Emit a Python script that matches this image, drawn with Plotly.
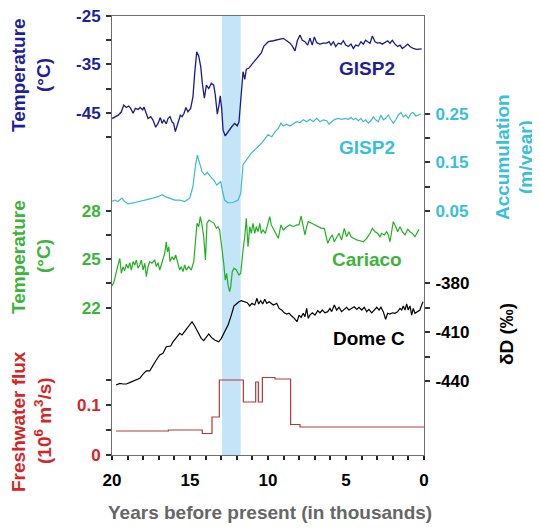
import plotly.graph_objects as go

# ---- data (years before present in thousands) ----
gisp2_temp_years = [20.0, 19.79, 19.6, 19.4, 19.25, 19.08, 18.93, 18.8, 18.65, 18.5, 18.33, 18.19, 18.03, 17.95,
                    17.8, 17.69, 17.52, 17.37, 17.2, 17.05, 16.9, 16.79, 16.67, 16.52, 16.41, 16.28, 16.15, 16.05,
                    15.94, 15.77, 15.62, 15.51, 15.38, 15.26, 15.13, 14.96, 14.81, 14.7, 14.57, 14.44, 14.31, 14.21,
                    14.08, 13.95, 13.8, 13.63, 13.48, 13.38, 13.25, 13.14, 13.06, 12.97, 12.88, 12.74, 12.56, 12.35,
                    12.14, 11.97, 11.86, 11.75, 11.6, 11.49, 11.39, 11.24, 11.07, 10.85, 10.64, 10.43, 10.26, 10.04,
                    9.98, 9.66, 9.34, 9.02, 8.8, 8.59, 8.44, 8.27, 8.12, 7.95, 7.8, 7.63, 7.46, 7.31, 7.16, 7.03,
                    6.88, 6.67, 6.46, 6.24, 6.09, 5.96, 5.81, 5.66, 5.49, 5.32, 5.17, 5.02, 4.85, 4.68, 4.53, 4.38,
                    4.21, 4.04, 3.89, 3.74, 3.61, 3.46, 3.31, 3.14, 2.97, 2.82, 2.67, 2.5, 2.33, 2.18, 2.03, 1.86,
                    1.69, 1.54, 1.39, 1.22, 1.04, 0.9, 0.69, 0.47, 0.26, 0.15]
gisp2_temp = [-46.2, -45.8, -45.5, -44.8, -43.4, -43.9, -43.6, -44.1, -45.1, -44.1, -44.3, -43.9, -44.4, -43.8,
              -45.1, -46.2, -45.8, -46.5, -48.0, -47.2, -46.0, -47.2, -46.5, -47.3, -46.2, -45.8, -46.9, -47.2,
              -48.9, -47.3, -45.5, -45.8, -45.1, -43.9, -44.8, -44.1, -41.7, -36.9, -32.4, -33.3, -35.5, -38.9,
              -42.0, -39.3, -40.0, -38.9, -39.3, -41.3, -45.3, -43.4, -41.5, -44.1, -48.6, -49.8, -48.9, -48.0,
              -47.2, -47.7, -46.9, -43.1, -36.5, -38.1, -36.0, -35.8, -35.1, -34.4, -33.5, -32.6, -31.2, -30.4,
              -30.3, -30.1, -29.8, -29.6, -30.1, -30.6, -31.2, -32.2, -30.1, -28.9, -30.0, -30.3, -31.0, -29.6,
              -31.0, -29.3, -30.5, -30.8, -30.6, -30.6, -30.3, -31.0, -30.3, -31.3, -30.6, -30.8, -30.1, -31.0,
              -31.3, -30.8, -31.7, -31.0, -31.2, -30.3, -30.8, -30.0, -30.3, -30.6, -29.1, -30.3, -30.6, -30.5,
              -30.8, -30.5, -30.1, -30.6, -30.0, -30.8, -31.3, -31.0, -31.7, -31.3, -30.8, -31.3, -31.7, -31.9,
              -31.9, -31.8]

accum_years = [20.0, 19.83, 19.62, 19.36, 19.19, 18.97, 18.65, 18.22, 17.8, 17.37, 17.05, 16.79, 16.58, 16.3,
               15.98, 15.66, 15.34, 15.02, 14.81, 14.66, 14.53, 14.38, 14.23, 14.06, 13.89, 13.67, 13.46, 13.29,
               13.14, 13.03, 12.93, 12.78, 12.56, 12.24, 11.92, 11.75, 11.6, 11.39, 11.07, 10.75, 10.43, 10.17,
               10.0, 9.76, 9.55, 9.34, 9.17, 9.02, 8.8, 8.59, 8.38, 8.16, 7.95, 7.74, 7.52, 7.31, 7.1, 6.88, 6.67,
               6.46, 6.24, 6.09, 5.92, 5.71, 5.49, 5.28, 5.06, 4.85, 4.68, 4.53, 4.38, 4.21, 4.04, 3.89, 3.74,
               3.57, 3.4, 3.25, 3.1, 2.93, 2.76, 2.61, 2.46, 2.29, 2.12, 1.97, 1.81, 1.65, 1.47, 1.33, 1.17, 1.01,
               0.83, 0.69, 0.53, 0.37, 0.19]
accum = [0.069, 0.072, 0.069, 0.076, 0.069, 0.064, 0.066, 0.069, 0.072, 0.076, 0.079, 0.083, 0.079, 0.076,
         0.072, 0.072, 0.069, 0.076, 0.100, 0.141, 0.165, 0.148, 0.131, 0.124, 0.129, 0.120, 0.113, 0.103,
         0.107, 0.110, 0.093, 0.072, 0.066, 0.067, 0.072, 0.086, 0.145, 0.155, 0.169, 0.179, 0.189, 0.200,
         0.207, 0.203, 0.213, 0.220, 0.231, 0.225, 0.229, 0.225, 0.229, 0.234, 0.232, 0.238, 0.234, 0.239,
         0.234, 0.241, 0.234, 0.238, 0.236, 0.229, 0.234, 0.239, 0.241, 0.239, 0.241, 0.239, 0.243, 0.238,
         0.241, 0.236, 0.241, 0.234, 0.238, 0.231, 0.236, 0.244, 0.238, 0.234, 0.248, 0.238, 0.241, 0.248,
         0.238, 0.231, 0.238, 0.248, 0.253, 0.244, 0.248, 0.241, 0.251, 0.253, 0.246, 0.248, 0.250]

cariaco_years = [20.0, 19.87, 19.72, 19.62, 19.5, 19.4, 19.29, 19.19, 19.08, 18.97, 18.86, 18.76, 18.65, 18.54,
                 18.44, 18.33, 18.22, 18.12, 18.01, 17.9, 17.8, 17.69, 17.58, 17.44, 17.26, 17.16, 17.05, 16.94,
                 16.84, 16.73, 16.62, 16.52, 16.45, 16.36, 16.28, 16.15, 16.03, 15.92, 15.77, 15.66, 15.56, 15.45,
                 15.34, 15.24, 15.08, 14.92, 14.76, 14.66, 14.55, 14.44, 14.34, 14.23, 14.12, 14.01, 13.91, 13.78,
                 13.63, 13.46, 13.31, 13.21, 13.1, 12.95, 12.84, 12.74, 12.65, 12.56, 12.46, 12.39, 12.29, 12.18,
                 12.03, 11.86, 11.75, 11.6, 11.49, 11.39, 11.28, 11.17, 11.07, 10.96, 10.85, 10.75, 10.64, 10.53,
                 10.43, 10.32, 10.17, 10.0, 9.89, 9.79, 9.66, 9.51, 9.34, 9.17, 9.02, 8.8, 8.59, 8.38, 8.16, 8.01,
                 7.88, 7.74, 7.63, 7.52, 7.42, 7.2, 6.99, 6.78, 6.56, 6.39, 6.3, 6.17, 6.03, 5.88, 5.75, 5.6, 5.45,
                 5.28, 5.11, 4.96, 4.81, 4.68, 4.53, 4.31, 4.1, 3.89, 3.67, 3.46, 3.31, 3.14, 2.97, 2.82, 2.71,
                 2.54, 2.39, 2.29, 2.18, 2.07, 1.97, 1.81, 1.69, 1.54, 1.39, 1.22, 1.04, 0.9, 0.75, 0.58, 0.47, 0.32]
cariaco_temp = [23.34, 23.6, 24.23, 24.64, 25.05, 24.13, 24.54, 24.29, 24.7, 24.44, 24.78, 24.33, 24.85, 24.64,
                24.95, 24.44, 24.64, 24.95, 24.33, 24.75, 23.92, 24.54, 24.85, 24.75, 24.95, 24.54, 24.78, 24.33,
                24.64, 24.95, 25.36, 26.08, 25.46, 25.77, 24.85, 25.15, 24.95, 25.26, 24.64, 24.33, 24.54, 24.23,
                24.64, 24.33, 24.54, 24.33, 24.85, 25.98, 27.22, 27.01, 27.63, 27.12, 26.39, 24.95, 27.22, 27.42,
                27.32, 27.22, 26.91, 27.01, 26.81, 25.77, 24.75, 23.71, 24.13, 23.4, 22.99, 23.3, 24.23, 24.44,
                24.33, 24.02, 24.13, 25.57, 26.39, 27.53, 25.77, 27.01, 26.6, 27.22, 26.6, 27.01, 26.7, 27.22,
                26.6, 26.81, 26.6, 27.22, 27.63, 27.12, 26.91, 26.6, 26.29, 27.12, 26.81, 27.01, 27.12, 27.01,
                27.12, 27.12, 27.67, 26.91, 26.5, 27.01, 27.32, 27.22, 27.12, 27.01, 26.91, 26.91, 26.6, 25.98,
                26.29, 26.5, 26.08, 26.39, 26.6, 26.19, 26.91, 26.39, 26.7, 26.39, 26.29, 26.19, 26.14, 26.08,
                26.29, 26.6, 26.91, 26.7, 26.6, 26.39, 26.6, 26.5, 26.7, 26.5, 26.08, 26.91, 27.32, 27.01, 26.7,
                27.01, 26.7, 26.5, 26.85, 26.7, 26.6, 26.39, 26.6, 26.85]

domec_years = [19.74, 19.5, 19.29, 19.08, 18.87, 18.54, 18.22, 18.01, 17.8, 17.58, 17.37, 17.16, 16.94, 16.73,
               16.52, 16.24, 16.09, 15.88, 15.66, 15.51, 15.34, 15.13, 14.87, 14.7, 14.49, 14.28, 14.12, 13.93,
               13.8, 13.63, 13.42, 13.16, 12.99, 12.78, 12.56, 12.35, 12.18, 12.03, 11.86, 11.71, 11.54, 11.33,
               11.17, 11.03, 10.85, 10.71, 10.6, 10.47, 10.34, 10.21, 10.08, 9.92, 9.74, 9.66, 9.44, 9.29, 9.12,
               8.96, 8.8, 8.65, 8.48, 8.31, 8.14, 8.01, 7.88, 7.74, 7.63, 7.52, 7.42, 7.31, 7.16, 6.99, 6.81, 6.67,
               6.52, 6.35, 6.17, 6.03, 5.92, 5.75, 5.6, 5.45, 5.28, 5.11, 4.96, 4.81, 4.63, 4.47, 4.31, 4.17,
               3.99, 3.83, 3.67, 3.53, 3.35, 3.19, 3.03, 2.88, 2.76, 2.61, 2.46, 2.33, 2.18, 2.03, 1.86, 1.69,
               1.54, 1.43, 1.33, 1.22, 1.11, 1.01, 0.9, 0.79, 0.69, 0.58, 0.4, 0.26, 0.15, 0.06]
domec_dD = [-442.4, -441.4, -441.8, -441.8, -441.0, -439.8, -438.3, -435.7, -433.7, -433.7, -430.2, -427.1,
            -424.0, -423.0, -418.9, -418.5, -415.9, -413.2, -410.7, -411.7, -409.7, -406.6, -403.6, -406.2,
            -410.3, -413.8, -415.2, -412.8, -411.1, -413.2, -414.8, -415.9, -413.8, -409.7, -405.6, -399.5,
            -393.9, -392.7, -391.3, -390.7, -391.3, -391.9, -393.9, -392.3, -393.3, -389.2, -392.7, -390.7,
            -392.7, -389.8, -392.3, -391.3, -392.7, -393.3, -392.3, -395.4, -396.4, -398.1, -398.9, -398.4,
            -400.1, -401.5, -403.6, -399.5, -400.9, -398.4, -400.5, -395.4, -401.5, -399.5, -398.1, -399.5,
            -396.8, -398.1, -396.4, -398.1, -397.4, -395.4, -397.4, -393.3, -396.4, -394.7, -397.4, -396.0,
            -394.7, -396.4, -395.4, -394.4, -396.0, -394.7, -396.4, -394.7, -397.4, -396.0, -398.1, -396.4,
            -394.7, -396.4, -394.7, -397.4, -402.1, -398.4, -398.9, -398.1, -398.4, -397.4, -395.4, -396.4,
            -393.9, -396.4, -392.7, -396.4, -393.9, -399.5, -395.4, -398.4, -397.4, -396.4, -393.3, -391.3]

flux_years = [19.74, 16.39, 14.21, 13.59, 13.12, 11.58, 10.79, 10.62, 10.36, 9.55, 8.55, 7.95, 0.0]
flux = [0.048, 0.050, 0.043, 0.076, 0.150, 0.106, 0.146, 0.106, 0.155, 0.152, 0.061, 0.056, 0.056]

younger_dryas = [12.95, 11.75]

# tick values (labelled / unlabelled)
x_major = [20, 15, 10, 5, 0]
x_minor = [v for v in range(0, 21) if v % 5]
nav_major, nav_minor = [-25, -35, -45], [-30, -40, -50]
grn_major, grn_minor = [28, 25, 22], [26.5, 23.5]
red_major, red_minor = [0, 0.1], [0.05, 0.15]
cyn_major, cyn_minor = [0.25, 0.15, 0.05], [0.2, 0.1]
blk_major, blk_minor = [-380, -410, -440], [-395, -425]

# colours
NAVY = "#1f1f9c"
CYAN = "#38bfd9"
GREEN = "#3cb43c"
RED = "#d42626"
AXIS_GREY = "#6e6e6e"
FONT = "Liberation Sans, Arial, sans-serif"


def bold(vals, fmt=str):
    return ["<b>%s</b>" % fmt(v) for v in vals]


fig = go.Figure()

fig.add_trace(go.Scatter(x=gisp2_temp_years, y=gisp2_temp, mode="lines",
                         line=dict(color="#1a1a8a", width=1.3), yaxis="y"))
fig.add_trace(go.Scatter(x=accum_years, y=accum, mode="lines",
                         line=dict(color="#3cbcc8", width=1.2), yaxis="y4"))
fig.add_trace(go.Scatter(x=cariaco_years, y=cariaco_temp, mode="lines",
                         line=dict(color="#22b022", width=1.2), yaxis="y2"))
fig.add_trace(go.Scatter(x=domec_years, y=domec_dD, mode="lines",
                         line=dict(color="black", width=1.2), yaxis="y5"))
fig.add_trace(go.Scatter(x=flux_years, y=flux, mode="lines", line_shape="hv",
                         line=dict(color="#b03a3a", width=1.2), yaxis="y3"))

# Younger Dryas band
fig.add_shape(type="rect", xref="x", yref="paper", x0=younger_dryas[0], x1=younger_dryas[1],
              y0=0, y1=1, fillcolor="#c4e4f8", line_width=0, layer="below")


def y_axis(rng, side, major, minor, color, fmt=str, overlay=True):
    ax = dict(range=rng, side=side, anchor="x", showgrid=False, zeroline=False,
              showline=True, linecolor=AXIS_GREY, linewidth=1, automargin=False,
              ticks="outside", ticklen=5, tickcolor="#333", tickwidth=1.5,
              tickvals=major, ticktext=bold(major, fmt), ticklabelstandoff=2,
              ticklabeloverflow="allow",
              tickfont=dict(size=17, color=color),
              minor=dict(tickvals=minor, ticks="outside", ticklen=5, tickcolor="#333",
                         tickwidth=1.5, showgrid=False))
    if overlay:
        ax["overlaying"] = "y"
    return ax


fig.update_layout(
    width=532, height=522, autosize=False,
    margin=dict(l=104, r=116, t=8, b=75),
    plot_bgcolor="white", paper_bgcolor="white",
    showlegend=False,
    font=dict(family=FONT),
    xaxis=dict(range=[20, 0], showgrid=False, zeroline=False, showline=True, mirror=True,
               linecolor=AXIS_GREY, linewidth=1, automargin=False, ticks="outside", ticklen=4,
               tickcolor="#222", tickwidth=1.5, tickvals=x_major, ticktext=bold(x_major),
               tickfont=dict(size=17, color="black"), ticklabelstandoff=6,
               minor=dict(tickvals=x_minor, ticks="outside", ticklen=4, tickcolor="#222",
                          tickwidth=1.5, showgrid=False)),
    yaxis=y_axis([-115.8, -24.98], "left", nav_major, nav_minor, NAVY, overlay=False),
    yaxis2=y_axis([12.89, 40.04], "left", grn_major, grn_minor, GREEN),
    yaxis3=y_axis([0, 0.878], "left", red_major, red_minor, RED,
                  fmt=lambda v: "0" if v == 0 else str(v)),
    yaxis4=y_axis([-0.4553, 0.4527], "right", cyn_major, cyn_minor, CYAN),
    yaxis5=y_axis([-485.4, -215.9], "right", blk_major, blk_minor, "black"),
)

# axis titles and series labels (paper coords)
labels = [
    ("<b>Temperature</b>", -0.2997, 0.8667, NAVY, -90),
    ("<b>(°C)</b>", -0.2212, 0.8656, NAVY, -90),
    ("<b>Temperature</b>", -0.2997, 0.4522, GREEN, -90),
    ("<b>(°C)</b>", -0.2212, 0.4533, GREEN, -90),
    ("<b>Freshwater flux</b>", -0.2997, 0.0763, RED, -90),
    ("<b>(10<sup>6</sup> m<sup>3</sup>/s)</b>", -0.2212, 0.0797, RED, -90),
    ("<b>Accumulation</b>", 1.25, 0.6788, CYAN, -90),
    ("<b>(m/year)</b>", 1.3237, 0.6788, CYAN, -90),
    ("<b>δD (‰)</b>", 1.2628, 0.2756, "black", -90),
    ("<b>GISP2</b>", 0.8189, 0.8809, NAVY, 0),
    ("<b>GISP2</b>", 0.8183, 0.7005, CYAN, 0),
    ("<b>Cariaco</b>", 0.8173, 0.4442, GREEN, 0),
    ("<b>Dome C</b>", 0.8237, 0.2658, "black", 0),
    ("<b>Years before present (in thousands)</b>", 0.5064, -0.1321, "#666666", 0),
]
for text, x, y, color, angle in labels:
    fig.add_annotation(text=text, x=x, y=y, xref="paper", yref="paper", showarrow=False,
                       xanchor="center", yanchor="middle", textangle=angle,
                       font=dict(size=19, color=color, family=FONT))

fig.write_html("out.html")
